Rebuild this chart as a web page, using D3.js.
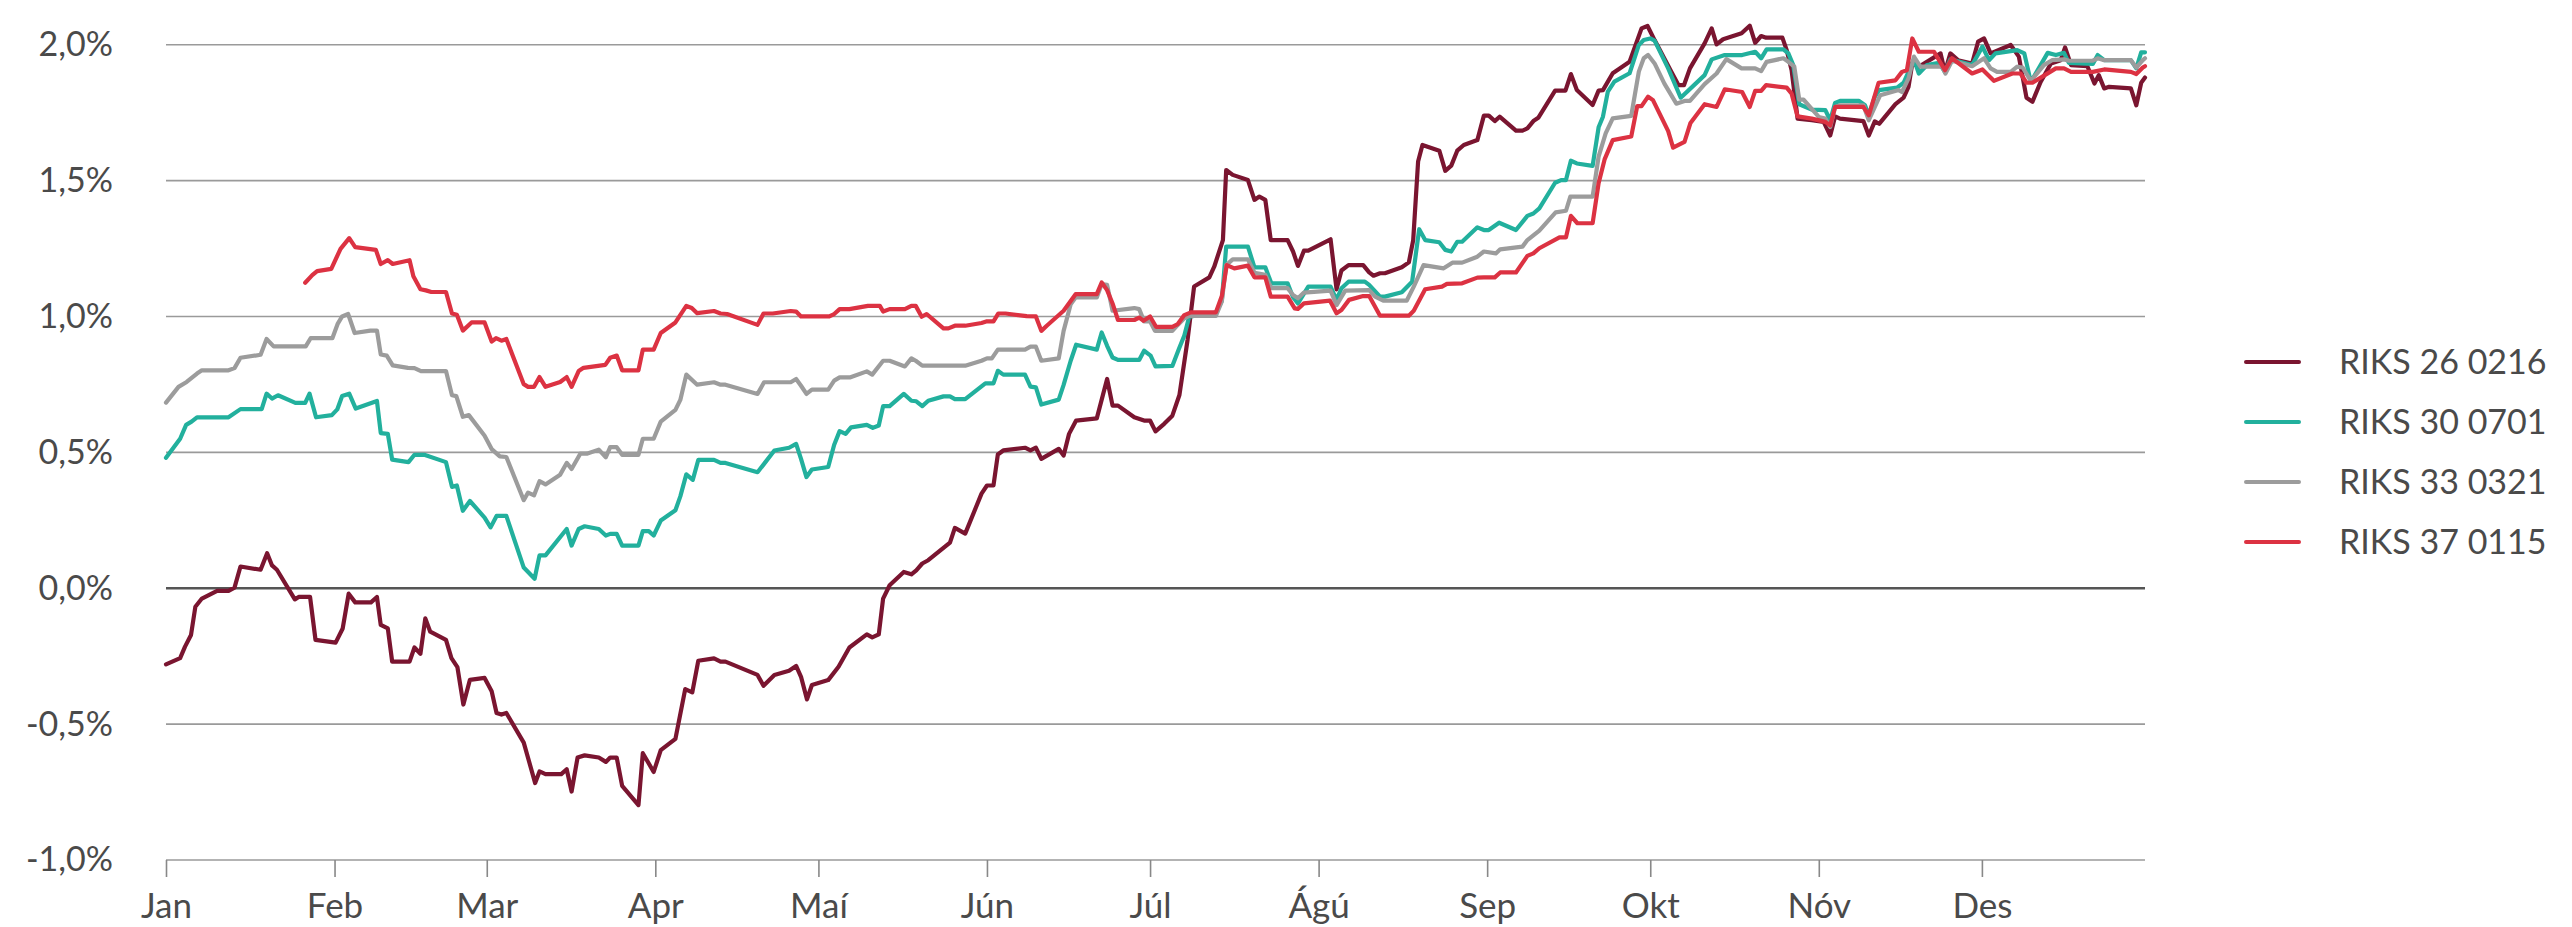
<!DOCTYPE html>
<html>
<head>
<meta charset="utf-8">
<script src="https://cdn.jsdelivr.net/npm/d3@7"></script>
<style>
  html, body { margin: 0; padding: 0; background: #fff; }
  svg { display: block; font-family: Lato, "Open Sans", sans-serif; }
</style>
</head>
<body>
<section></section>
<script>
// day of year (0 = 1 Jan), change in %
const riks26 = [[0,-0.28],[2.6,-0.257],[3.5,-0.215],[4.6,-0.172],[5.4,-0.068],[6.6,-0.038],[9.4,-0.01],[11.5,-0.01],[12.6,0.002],[13.7,0.08],[17.4,0.068],[18.6,0.129],[19.5,0.084],[20.4,0.068],[23.7,-0.041],[24.4,-0.032],[26.5,-0.032],[27.5,-0.19],[31.2,-0.2],[32.5,-0.148],[33.6,-0.02],[34.8,-0.052],[37.7,-0.052],[38.8,-0.032],[39.5,-0.135],[40.8,-0.148],[41.6,-0.27],[44.8,-0.27],[45.7,-0.218],[46.8,-0.241],[47.7,-0.111],[48.6,-0.16],[51.5,-0.19],[52.5,-0.257],[53.6,-0.29],[54.7,-0.428],[55.9,-0.337],[58.6,-0.33],[59.9,-0.379],[60.8,-0.459],[61.7,-0.465],[62.6,-0.459],[65.8,-0.568],[67.9,-0.717],[68.7,-0.674],[69.8,-0.684],[72.7,-0.684],[73.7,-0.666],[74.6,-0.748],[75.7,-0.623],[77,-0.615],[79.6,-0.623],[80.9,-0.639],[81.7,-0.623],[82.9,-0.623],[83.9,-0.727],[86.9,-0.798],[87.7,-0.607],[89.7,-0.676],[91,-0.596],[93.7,-0.554],[95.5,-0.371],[96.8,-0.383],[97.9,-0.267],[100.8,-0.258],[102,-0.27],[102.9,-0.27],[108.8,-0.319],[109.9,-0.359],[111.9,-0.319],[114.6,-0.304],[115.9,-0.286],[116.8,-0.326],[117.9,-0.409],[118.8,-0.356],[121.8,-0.338],[123.7,-0.289],[125.7,-0.218],[128.9,-0.17],[129.9,-0.181],[131.1,-0.17],[131.9,-0.038],[133.1,0.011],[135.7,0.06],[137.1,0.051],[138,0.066],[139.1,0.091],[140.2,0.103],[144.2,0.168],[145.1,0.222],[147,0.201],[150,0.348],[151,0.378],[152.2,0.378],[153,0.492],[154,0.507],[158,0.517],[159,0.507],[160,0.517],[161,0.476],[164.2,0.513],[165.1,0.488],[166.1,0.568],[167.4,0.617],[171.2,0.625],[173.1,0.77],[174.1,0.672],[175.1,0.672],[178.1,0.629],[179.9,0.617],[181,0.617],[182,0.577],[183.6,0.605],[185.1,0.635],[186.4,0.711],[187.9,0.914],[189.1,1.11],[191.9,1.144],[192.8,1.183],[194.4,1.281],[195,1.539],[196.2,1.521],[199,1.502],[200.2,1.429],[201.1,1.441],[202.2,1.429],[203.2,1.281],[206.3,1.281],[207.3,1.239],[208.2,1.186],[209.3,1.242],[210.1,1.242],[214.2,1.284],[215.3,1.1],[216.2,1.169],[217.5,1.189],[220.2,1.189],[221.3,1.162],[222.1,1.15],[223.3,1.159],[224.2,1.159],[227.3,1.181],[228.6,1.199],[229.4,1.281],[230.3,1.57],[231.1,1.631],[234.2,1.61],[235.3,1.536],[236.4,1.555],[237.5,1.61],[238.7,1.631],[241.2,1.649],[242.4,1.739],[243.3,1.739],[244.4,1.719],[245.3,1.735],[248.3,1.684],[249.5,1.684],[250.4,1.692],[251.5,1.719],[252.4,1.731],[255.5,1.831],[257.4,1.831],[258.4,1.892],[259.5,1.833],[262.4,1.778],[263.5,1.831],[264.3,1.833],[266.1,1.895],[269.2,1.937],[271.4,2.06],[272.5,2.069],[273.8,2.017],[276.9,1.9],[278.2,1.851],[279.2,1.851],[280.3,1.913],[283,2.005],[284.3,2.06],[285.2,2.001],[286.4,2.02],[289.8,2.042],[291.3,2.07],[292.3,2.007],[293.4,2.032],[294.3,2.026],[297.3,2.026],[298.1,1.98],[299,1.906],[300.1,1.728],[302.7,1.722],[304.9,1.716],[306.1,1.666],[307,1.736],[307.9,1.728],[312.2,1.719],[313.2,1.666],[314.3,1.718],[315.1,1.709],[318.1,1.781],[319.6,1.805],[320.5,1.845],[321.2,1.931],[322.4,1.919],[326.4,1.968],[327.2,1.9],[328.2,1.968],[329.6,1.943],[332.2,1.931],[333.3,2.011],[334.4,2.023],[335.6,1.968],[339.3,1.999],[340.8,1.956],[342.2,1.805],[343.3,1.79],[344.8,1.863],[346.7,1.931],[348.5,1.943],[349.3,1.99],[350.4,1.925],[353.4,1.921],[354.7,1.857],[355.5,1.888],[356.5,1.839],[357.4,1.845],[361.4,1.839],[362.4,1.777],[363.3,1.86],[364,1.879]];

const riks30 = [[0,0.48],[2.6,0.55],[3.7,0.601],[4.7,0.613],[5.7,0.629],[11.5,0.629],[13.7,0.659],[17.6,0.659],[18.5,0.716],[19.5,0.698],[20.6,0.71],[23.8,0.682],[25.6,0.682],[26.4,0.716],[27.6,0.629],[30.5,0.637],[31.5,0.658],[32.4,0.707],[33.7,0.716],[34.9,0.661],[38.8,0.689],[39.5,0.571],[40.8,0.568],[41.6,0.473],[44.6,0.464],[45.7,0.491],[47.5,0.491],[51.5,0.464],[52.6,0.373],[53.5,0.378],[54.6,0.285],[55.9,0.321],[58.6,0.26],[59.7,0.224],[60.8,0.266],[62.6,0.266],[65.8,0.076],[67.8,0.035],[68.7,0.121],[69.8,0.121],[73.7,0.218],[74.6,0.157],[75.9,0.218],[77,0.228],[79.6,0.218],[80.9,0.194],[81.7,0.2],[82.9,0.2],[83.9,0.157],[86.9,0.157],[87.7,0.21],[88.8,0.21],[89.7,0.194],[91,0.249],[93.7,0.287],[94.6,0.338],[95.7,0.419],[96.9,0.399],[97.9,0.472],[100.8,0.472],[102,0.461],[102.9,0.461],[108.8,0.427],[109.9,0.455],[111.9,0.507],[114.6,0.517],[115.9,0.531],[116.8,0.476],[117.8,0.409],[118.8,0.437],[121.8,0.446],[122.9,0.528],[123.9,0.578],[125,0.568],[126,0.592],[128.9,0.601],[130,0.59],[131.1,0.599],[131.9,0.67],[133.1,0.67],[135.7,0.715],[137.1,0.69],[138,0.688],[139.1,0.67],[140.2,0.69],[143,0.706],[144.2,0.706],[145.1,0.696],[147,0.696],[150.7,0.754],[152.2,0.754],[153,0.8],[154,0.786],[158,0.786],[159,0.742],[160,0.739],[161,0.676],[164.2,0.694],[165.1,0.748],[166.4,0.837],[167.4,0.896],[171.2,0.878],[172.1,0.941],[173.1,0.892],[174.1,0.849],[175.1,0.84],[179,0.84],[179.9,0.874],[181.1,0.856],[182,0.816],[185.1,0.818],[186.3,0.88],[187.3,0.93],[188.2,0.999],[193.1,1.014],[194.2,1.058],[195,1.257],[199,1.257],[200.2,1.181],[202.2,1.181],[203.3,1.122],[206.3,1.122],[207.3,1.071],[208.2,1.048],[210.1,1.11],[214.2,1.11],[215.3,1.061],[216.2,1.104],[217.5,1.128],[220.5,1.128],[221.3,1.116],[223.3,1.073],[224.2,1.073],[227.3,1.089],[229.2,1.128],[230.5,1.321],[231.6,1.281],[234.2,1.273],[235.3,1.245],[236.4,1.239],[237.5,1.275],[238.4,1.275],[241.2,1.328],[242.4,1.318],[243.3,1.318],[245.2,1.345],[248.3,1.318],[250.4,1.37],[251.5,1.379],[252.6,1.398],[255.5,1.492],[256.6,1.502],[257.5,1.502],[258.4,1.573],[259.5,1.563],[262.4,1.554],[263.5,1.696],[264.3,1.735],[265.2,1.827],[266.4,1.864],[269.2,1.895],[270.9,1.999],[271.8,2.017],[273,2.023],[273.8,2.015],[276.3,1.913],[278.6,1.805],[283,1.888],[284.3,1.946],[286.7,1.962],[289.9,1.962],[292.3,1.974],[293.4,1.95],[294.4,1.983],[297.5,1.983],[298.4,1.968],[299.3,1.925],[300.4,1.781],[302.7,1.761],[305.2,1.759],[306.1,1.722],[307,1.786],[307.9,1.793],[311.4,1.793],[312.5,1.777],[313.2,1.74],[314.3,1.808],[315.1,1.833],[318.4,1.842],[319.6,1.86],[320.5,1.9],[321.5,1.946],[322.4,1.894],[323.9,1.925],[326.1,1.933],[327.2,1.9],[328.2,1.946],[332.2,1.925],[334.1,1.993],[335.3,1.943],[336.5,1.968],[340.5,1.98],[341.8,1.968],[343,1.863],[346.1,1.97],[347.6,1.962],[349.1,1.97],[350,1.933],[354.4,1.929],[355.3,1.962],[356.5,1.943],[361.4,1.943],[362.4,1.913],[363.3,1.972],[364,1.972]];

const riks33 = [[0,0.683],[2.3,0.741],[3.8,0.759],[5.7,0.79],[6.6,0.802],[11.5,0.802],[12.6,0.81],[13.7,0.848],[17.4,0.859],[18.5,0.917],[19.8,0.89],[25.7,0.89],[26.6,0.92],[30.6,0.92],[31.6,0.974],[32.4,1.0],[33.5,1.009],[34.7,0.939],[37.6,0.948],[38.8,0.948],[39.5,0.86],[40.6,0.856],[41.7,0.82],[44.5,0.811],[45.7,0.81],[46.9,0.799],[51.5,0.799],[52.6,0.71],[53.4,0.707],[54.6,0.631],[55.7,0.637],[58.6,0.561],[59.9,0.512],[61.4,0.485],[62.6,0.483],[65.8,0.324],[66.6,0.352],[67.7,0.342],[68.7,0.394],[69.8,0.382],[72.5,0.418],[73.7,0.461],[74.6,0.439],[76.2,0.495],[77.4,0.495],[79.6,0.51],[80.9,0.482],[81.7,0.519],[82.9,0.519],[83.9,0.491],[86.9,0.491],[87.7,0.55],[89.7,0.55],[91,0.613],[93.7,0.656],[94.6,0.693],[95.7,0.786],[97.7,0.749],[100.8,0.758],[102,0.749],[102.9,0.749],[108.8,0.715],[110,0.758],[114.9,0.758],[115.9,0.77],[116.8,0.745],[117.8,0.715],[118.8,0.731],[121.8,0.731],[122.9,0.764],[123.9,0.776],[125.9,0.776],[128.9,0.798],[129.9,0.786],[131.9,0.837],[133.1,0.837],[135.9,0.816],[137.1,0.846],[137.9,0.837],[139.1,0.819],[147,0.819],[150,0.837],[151,0.846],[151.9,0.846],[153,0.878],[158,0.878],[159,0.889],[160,0.889],[161,0.837],[164.2,0.846],[165.1,0.947],[166.4,1.045],[167.3,1.07],[171.2,1.07],[172.1,1.119],[173.1,1.116],[174.1,1.021],[178.1,1.031],[179,1.027],[179.9,0.982],[181,0.982],[181.9,0.947],[185.1,0.947],[186.1,0.969],[187.3,0.993],[188.2,1.002],[193.1,1.002],[194.2,1.055],[195,1.189],[196.2,1.21],[199,1.21],[200.2,1.161],[202.2,1.153],[203.3,1.104],[206.3,1.104],[207.3,1.079],[208.2,1.067],[209.3,1.088],[214.2,1.095],[215.3,1.042],[216.9,1.095],[221.3,1.097],[222.4,1.073],[223.9,1.058],[228.2,1.058],[229.5,1.11],[231.3,1.189],[235,1.177],[236.6,1.198],[238.4,1.198],[241.2,1.22],[242.4,1.239],[244.6,1.232],[245.4,1.247],[249.5,1.257],[250.4,1.281],[252.6,1.316],[255.6,1.383],[257.5,1.389],[258.3,1.441],[262.4,1.441],[263.5,1.588],[264.8,1.674],[266.1,1.729],[269.5,1.738],[270.9,1.901],[271.8,1.95],[272.6,1.962],[273.8,1.931],[275.6,1.857],[277.8,1.783],[279.3,1.793],[280.3,1.793],[283,1.855],[285.2,1.894],[287,1.947],[289.8,1.913],[292.3,1.913],[293.4,1.903],[294.4,1.937],[297.5,1.95],[298.4,1.937],[299.5,1.919],[300.4,1.798],[301.2,1.798],[304,1.734],[305.2,1.728],[306.1,1.697],[307,1.771],[307.9,1.777],[312.2,1.777],[313.2,1.722],[315.3,1.814],[318.7,1.833],[319.3,1.826],[320.5,1.876],[321.5,1.956],[322.7,1.919],[326.7,1.919],[327.3,1.894],[328.5,1.941],[332.2,1.921],[334.4,1.95],[335.6,1.913],[336.8,1.9],[339.3,1.9],[340.5,1.919],[341.5,1.916],[343,1.867],[345.4,1.925],[346.9,1.943],[349.1,1.946],[350,1.941],[354.4,1.941],[355.3,1.95],[356.5,1.943],[361.4,1.943],[362.4,1.916],[363.6,1.943],[364,1.95]];

const riks37 = [[25.6,1.124],[26.9,1.152],[27.8,1.167],[30.4,1.175],[32.1,1.249],[33.7,1.288],[34.8,1.255],[38.6,1.245],[39.5,1.193],[40.8,1.207],[41.7,1.193],[44.8,1.207],[45.5,1.148],[46.8,1.1],[47.8,1.096],[48.8,1.09],[51.5,1.09],[52.6,1.011],[53.5,1.006],[54.6,0.948],[56.2,0.978],[58.6,0.978],[59.9,0.908],[60.7,0.92],[61.7,0.911],[62.6,0.917],[65.8,0.751],[66.6,0.741],[67.7,0.741],[68.7,0.777],[69.8,0.741],[72.5,0.759],[73.7,0.777],[74.6,0.741],[75.9,0.799],[76.8,0.811],[80.8,0.822],[81.7,0.848],[82.9,0.856],[83.9,0.802],[86.9,0.802],[87.7,0.878],[89.7,0.878],[91,0.939],[93.7,0.978],[95.7,1.039],[96.7,1.031],[97.7,1.012],[100.8,1.02],[102,1.011],[103.2,1.009],[108.8,0.969],[109.9,1.011],[111.6,1.011],[114.9,1.02],[115.9,1.018],[116.8,1.0],[122,1.0],[122.9,1.009],[123.9,1.027],[125.7,1.027],[129.1,1.039],[131.3,1.039],[131.9,1.018],[133.1,1.027],[135.9,1.027],[137.1,1.039],[137.9,1.039],[139,0.999],[139.9,1.009],[143,0.956],[143.9,0.956],[145.1,0.966],[147,0.966],[150,0.976],[151,0.982],[152.2,0.982],[153.1,1.011],[154.4,1.011],[158.3,1.001],[160,1.0],[161,0.947],[162,0.966],[165.1,1.021],[167.3,1.082],[171.2,1.082],[172.1,1.125],[173.1,1.097],[174.1,1.048],[175.1,0.987],[178.1,0.987],[179,0.996],[179.8,0.984],[181,1.0],[182.1,0.962],[185.1,0.962],[186.1,0.972],[187.3,1.005],[188.5,1.015],[193.1,1.015],[194.2,1.075],[195.1,1.189],[196.5,1.177],[199,1.187],[200.2,1.144],[202.2,1.144],[203.2,1.073],[206.3,1.073],[207.6,1.03],[208.2,1.028],[209.3,1.048],[214.1,1.058],[215.3,1.012],[216.2,1.024],[217.6,1.061],[220.2,1.075],[221.3,1.075],[223.3,1.003],[228.6,1.003],[229.5,1.021],[231.6,1.1],[234.7,1.11],[235.6,1.12],[238.4,1.122],[241.2,1.143],[242.4,1.144],[244.4,1.144],[245.4,1.162],[248.3,1.162],[250.4,1.223],[251.5,1.232],[252.6,1.251],[256.3,1.291],[257.5,1.291],[258.4,1.37],[259.6,1.343],[262.4,1.343],[263.5,1.49],[264.6,1.578],[266.1,1.649],[269.5,1.662],[270.6,1.774],[271.4,1.774],[272.6,1.809],[273.5,1.796],[276.3,1.682],[277.2,1.621],[279.3,1.642],[280.4,1.712],[283,1.781],[285.2,1.771],[286.7,1.836],[289.9,1.826],[291.3,1.771],[292.3,1.83],[293.4,1.83],[294.3,1.851],[298.1,1.842],[299,1.82],[300.1,1.736],[302.7,1.728],[305.2,1.716],[306.1,1.703],[307,1.771],[312.2,1.771],[313.2,1.74],[315,1.86],[318.1,1.869],[319.3,1.9],[320.2,1.906],[321.2,2.023],[322.4,1.974],[325.2,1.974],[327.2,1.906],[328.5,1.95],[332.2,1.894],[334.1,1.909],[336.2,1.867],[339.6,1.894],[341.1,1.894],[342.2,1.86],[343.3,1.86],[347.6,1.913],[349.1,1.913],[350.4,1.9],[354.4,1.9],[356.5,1.909],[361.4,1.9],[362.4,1.892],[363.6,1.916],[364,1.921]];

const seriesNames = ["RIKS 26 0216", "RIKS 30 0701", "RIKS 33 0321", "RIKS 37 0115"];
const seriesColors = ["#7a1530", "#22b09d", "#9c9c9c", "#dc3242"];
const monthLabels = ["Jan", "Feb", "Mar", "Apr", "Maí", "Jún", "Júl", "Ágú", "Sep", "Okt", "Nóv", "Des"];
const yTicks = [-1, -0.5, 0, 0.5, 1, 1.5, 2];

const width = 2572, height = 927;
const margin = {left: 166, right: 2145, top: 44.7, bottom: 860};
const start = Date.UTC(2021, 0, 1);
const toDate = d => new Date(start + d * 864e5);

const svg = d3.select("section").append("svg")
  .attr("width", width)
  .attr("height", height);

const x = d3.scaleUtc()
  .domain([new Date(start), new Date(Date.UTC(2021, 11, 31))])
  .range([margin.left, margin.right]);

const y = d3.scaleLinear()
  .domain([-1, 2])
  .range([margin.bottom, margin.top]);

// grid
svg.append("g")
  .selectAll("line")
  .data(yTicks)
  .enter()
  .append("line")
  .attr("x1", margin.left)
  .attr("x2", margin.right)
  .attr("y1", d => y(d))
  .attr("y2", d => y(d))
  .attr("stroke", d => d === 0 ? "#555" : "#9a9a9a")
  .attr("stroke-width", d => d === 0 ? 2.6 : 1.6);

// y labels
const yAxis = svg.append("g")
  .attr("transform", `translate(${margin.left},0)`)
  .call(d3.axisLeft(y)
    .tickValues(yTicks)
    .tickSize(0)
    .tickPadding(53)
    .tickFormat(d => d3.format(".1f")(d).replace(".", ",").replace("−", "-") + "%"));
yAxis.select(".domain").remove();
yAxis.selectAll("text")
  .attr("font-size", 34)
  .attr("font-family", "Lato, sans-serif")
  .attr("fill", "#4a4a4a");

// x axis
const months = d3.utcMonth.range(new Date(start), new Date(Date.UTC(2022, 0, 1)));
const xAxis = svg.append("g")
  .attr("transform", `translate(0,${margin.bottom})`)
  .call(d3.axisBottom(x)
    .tickValues(months)
    .tickSize(17)
    .tickFormat(d => monthLabels[d.getUTCMonth()]));
xAxis.select(".domain").remove();
xAxis.selectAll("line")
  .attr("stroke", "#888")
  .attr("stroke-width", 1.6);
xAxis.selectAll("text")
  .attr("y", 58)
  .attr("dy", 0)
  .attr("font-size", 35)
  .attr("font-family", "Lato, sans-serif")
  .attr("fill", "#4a4a4a");

// lines
const line = d3.line()
  .x(d => x(toDate(d[0])))
  .y(d => y(d[1]));

const allSeries = [riks26, riks30, riks33, riks37];

svg.append("g")
  .selectAll("path")
  .data(allSeries)
  .enter()
  .append("path")
  .attr("d", d => line(d))
  .attr("fill", "none")
  .attr("stroke", (d, i) => seriesColors[i])
  .attr("stroke-width", 4.2)
  .attr("stroke-linejoin", "round")
  .attr("stroke-linecap", "round");

// legend
const legend = svg.append("g")
  .selectAll("g")
  .data(seriesNames)
  .enter()
  .append("g")
  .attr("transform", (d, i) => `translate(2246,${362 + i * 60})`);

legend.append("line")
  .attr("x1", 0)
  .attr("x2", 53)
  .attr("stroke", (d, i) => seriesColors[i])
  .attr("stroke-width", 4)
  .attr("stroke-linecap", "round");

legend.append("text")
  .attr("x", 93)
  .attr("dy", "0.35em")
  .attr("font-size", 34)
  .attr("fill", "#4a4a4a")
  .text(d => d);
</script>
</body>
</html>
